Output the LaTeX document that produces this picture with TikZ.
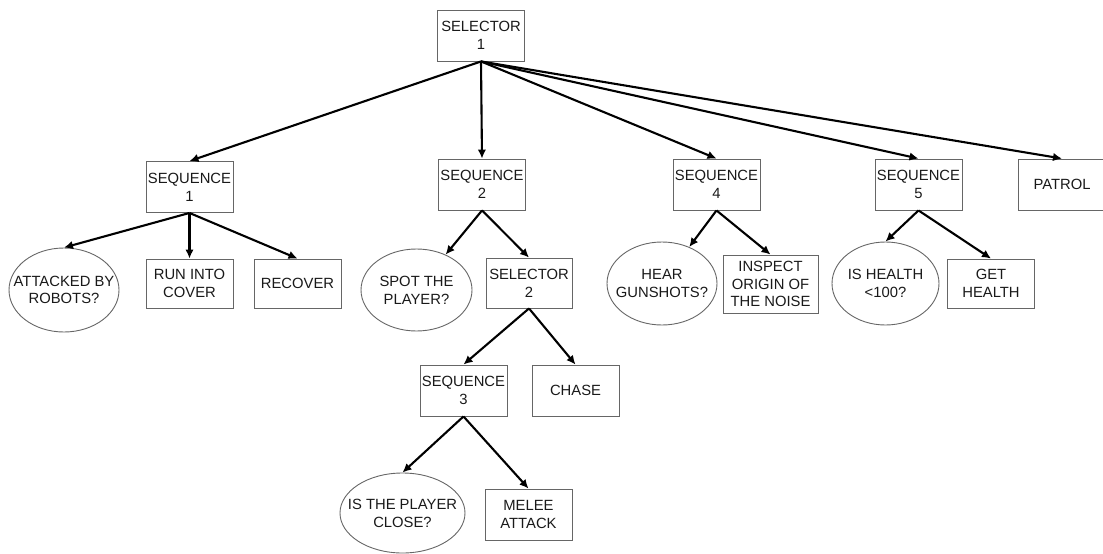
\documentclass[tikz,border=0pt]{standalone}
\usepackage{fontspec}
\setmainfont{Liberation Sans}
\usetikzlibrary{shapes.geometric,arrows.meta}
\begin{document}
\begin{tikzpicture}[x=1pt,y=-1pt,
  txt/.style={font=\fontsize{14.8}{17.8}\selectfont, text=black!90, align=center, inner sep=0pt},
  box/.style={txt, draw=black!60, line width=0.9pt, rectangle, minimum width=87pt, minimum height=51pt},
  oval/.style={draw=black!60, line width=0.9pt, ellipse, inner sep=0pt},
  arr/.style={-{Latex[length=9pt,width=8.5pt]}, line width=2.1pt, black}
]
\useasboundingbox (0,0) rectangle (1103,554);
\node[box] (sel1) at (481,35.5) {SELECTOR\\1};
\node[box] (seq1) at (189.5,187) {SEQUENCE\\1};
\node[box] (seq2) at (482,184.5) {SEQUENCE\\2};
\node[box] (seq4) at (716.5,184.5) {SEQUENCE\\4};
\node[box] (seq5) at (918.5,184.5) {SEQUENCE\\5};
\node[box] (patrol) at (1062,184.5) {PATROL};
\node[oval, minimum width=110pt, minimum height=84pt] (att) at (64,290) {};
\node[txt] (attT) at (att.center) {ATTACKED BY\\ROBOTS?};
\node[box, minimum height=49pt] (run) at (189.5,283.5) {RUN INTO\\COVER};
\node[box, minimum height=49pt] (rec) at (297.5,283.5) {RECOVER};
\node[oval, minimum width=111pt, minimum height=82pt] (spot) at (416.5,290) {};
\node[txt] (spotT) at (spot.center) {SPOT THE\\PLAYER?};
\node[box, minimum width=86pt, minimum height=50pt] (sel2) at (529,283) {SELECTOR\\2};
\node[box] (seq3) at (463.5,390.5) {SEQUENCE\\3};
\node[box] (chase) at (575.5,390.5) {CHASE};
\node[oval, minimum width=125pt, minimum height=80pt] (close) at (402.5,513) {};
\node[txt] (closeT) at (close.center) {IS THE PLAYER\\CLOSE?};
\node[box] (melee) at (528.5,514.5) {MELEE\\ATTACK};
\node[oval, minimum width=110pt, minimum height=83pt] (hear) at (662,283.5) {};
\node[txt] (hearT) at (hear.center) {HEAR\\GUNSHOTS?};
\node[box, minimum width=95pt, minimum height=58pt] (insp) at (770.5,284) {INSPECT\\ORIGIN OF\\THE NOISE};
\node[oval, minimum width=107pt, minimum height=83pt] (hlth) at (885.5,283.5) {};
\node[txt] (hlthT) at (hlth.center) {IS HEALTH\\<100?};
\node[box, minimum height=49pt] (get) at (991,283.5) {GET\\HEALTH};
\draw[arr] (sel1.south) -- (seq1.north);
\draw[arr] (sel1.south) -- (seq2.north);
\draw[arr] (sel1.south) -- (seq4.north);
\draw[arr] (sel1.south) -- (seq5.north);
\draw[arr] (sel1.south) -- (patrol.north);
\draw[arr] (seq1.south) -- (att.north);
\draw[arr] (seq1.south) -- (run.north);
\draw[arr] (seq1.south) -- (rec.north);
\draw[arr] (seq2.south) -- (spot);
\draw[arr] (seq2.south) -- (sel2.north);
\draw[arr] (sel2.south) -- (seq3.north);
\draw[arr] (sel2.south) -- (chase.north);
\draw[arr] (seq3.south) -- (close.north);
\draw[arr] (seq3.south) -- (melee.north);
\draw[arr] (seq4.south) -- (hear);
\draw[arr] (seq4.south) -- (insp.north);
\draw[arr] (seq5.south) -- (hlth.north);
\draw[arr] (seq5.south) -- (get.north);
\end{tikzpicture}
\end{document}
